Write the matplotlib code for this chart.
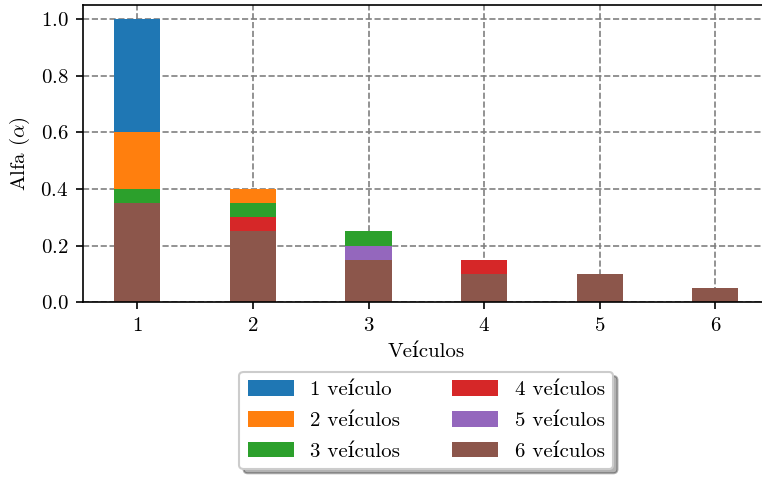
import matplotlib
matplotlib.use("Agg")
import matplotlib.pyplot as plt
import numpy as np

plt.rcParams["font.family"] = ["cmr10", "DejaVu Serif"]
plt.rcParams["mathtext.fontset"] = "cm"
plt.rcParams["axes.unicode_minus"] = False
plt.rcParams["axes.formatter.use_mathtext"] = True

# Alfa por número de veículos, empilhado de 6 até 1 veículo
veiculos = [1, 2, 3, 4, 5, 6]
alfa_6 = [0.35, 0.25, 0.15, 0.10, 0.10, 0.05]
alfa_5 = [0.00, 0.00, 0.05, 0.00, 0.00, 0.00]
alfa_4 = [0.00, 0.05, 0.00, 0.05, 0.00, 0.00]
alfa_3 = [0.05, 0.05, 0.05, 0.00, 0.00, 0.00]
alfa_2 = [0.20, 0.05, 0.00, 0.00, 0.00, 0.00]
alfa_1 = [0.40, 0.00, 0.00, 0.00, 0.00, 0.00]

series = [
    (alfa_6, "6 veículos", "tab:brown"),
    (alfa_5, "5 veículos", "tab:purple"),
    (alfa_4, "4 veículos", "tab:red"),
    (alfa_3, "3 veículos", "tab:green"),
    (alfa_2, "2 veículos", "tab:orange"),
    (alfa_1, "1 veículo", "tab:blue"),
]

FS = 10
DPI = 150

fig = plt.figure(figsize=(762 / DPI, 478 / DPI), dpi=DPI)
ax = fig.add_axes([0.109, 0.368, 0.901, 0.621])

bottom = np.zeros(len(veiculos))
bars = []
for vals, label, color in series:
    bars.append(ax.bar(veiculos, vals, width=0.4, bottom=bottom, color=color, label=label))
    bottom += np.array(vals)

ax.set_axisbelow(True)
ax.grid(True, color="gray", linestyle="--", linewidth=0.8)
ax.set_xticks(veiculos)
ax.set_yticks([0.0, 0.2, 0.4, 0.6, 0.8, 1.0])
ax.tick_params(labelsize=FS)
ax.set_xlabel("Veículos", fontsize=FS)
ax.set_ylabel(r"Alfa ($\alpha$)", fontsize=FS)

bars = bars[::-1]
ax.legend(bars, [b.get_label() for b in bars],
          loc="upper center", bbox_to_anchor=(0.5, -0.2), ncol=2,
          shadow={"color": "k", "alpha": 0.3}, fontsize=FS,
          handlelength=2.2, handleheight=0.8, labelspacing=0.55,
          columnspacing=2.5)

fig.savefig("out.png", dpi=DPI)
